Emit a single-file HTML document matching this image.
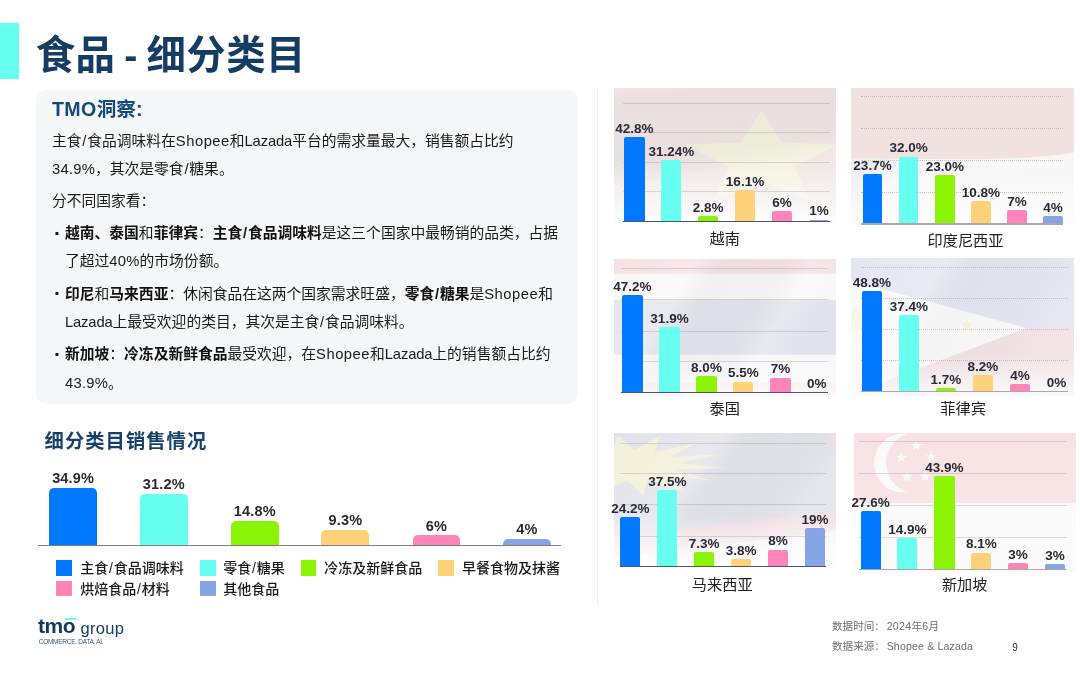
<!DOCTYPE html>
<html lang="zh-CN">
<head>
<meta charset="utf-8">
<title>食品 - 细分类目</title>
<style>
*{margin:0;padding:0;box-sizing:border-box}
html,body{width:1080px;height:675px;background:#fff;overflow:hidden}
body{position:relative;font-family:"Liberation Sans", "Noto Sans CJK SC", sans-serif;color:#111;-webkit-font-smoothing:antialiased}
.abs{position:absolute;white-space:nowrap}
.accent{left:0;top:23px;width:19px;height:56px;background:#66fff0}
.title{left:35.8px;top:28.6px;height:52px;line-height:52px;font-size:39.4px;font-weight:700;color:#153c63;letter-spacing:.4px;word-spacing:-2.5px}
.card{left:35.8px;top:89.5px;width:541.8px;height:314px;background:#f5f7f9;border-radius:10px}
.h2{font-weight:700;color:#17487a}
.ln{left:52px;font-size:14.78px;height:28px;line-height:28px;color:#1a1a1a}
.ln b{font-weight:700;color:#111}
.ind{left:65px}
.sh{letter-spacing:.5px}
.lz{letter-spacing:-.15px}
.dg{letter-spacing:.23px}
.sl{padding:0 .8px}
.bul{left:53px;width:8px;text-align:center;font-size:21px;font-weight:700;height:28px;line-height:28px;color:#1a1a1a}
.bar{position:absolute;border-radius:5px 5px 0 0}
.sbar{position:absolute;border-radius:2px 2px 0 0}
.lbl{position:absolute;white-space:nowrap;font-weight:700;color:#2a2a36;text-align:center;transform:translateX(-50%)}
.big{font-size:14.5px;height:18px;line-height:18px;letter-spacing:.15px}
.sm{font-size:13.5px;height:16px;line-height:16px}
.axis{position:absolute;height:1px;background:#808080}
.sw{position:absolute;width:15.8px;height:15.5px}
.lg{font-size:14px;font-weight:500;height:20px;line-height:20px;color:#1a1a1a}
.cty{position:absolute;white-space:nowrap;font-size:15.2px;height:20px;line-height:20px;color:#222;transform:translateX(-50%)}
.panel{position:absolute;overflow:hidden}
.panel svg{position:absolute;left:0;top:0;display:block}
.grid{position:absolute;height:0;border-top:1px solid rgba(110,110,120,.23)}
.gridd{position:absolute;height:0;border-top:1px dotted rgba(110,110,120,.36)}
.vline{left:597px;top:86.5px;width:1px;height:519.7px;background:#eef0f3}
.ft{left:832px;font-size:10.6px;height:16px;line-height:16px;color:#6e6e76}
.pg{left:1012.3px;top:640px;font-size:10px;height:16px;line-height:16px;color:#333}
.logo{color:#123a5e}
</style>
</head>
<body>
<div class="abs accent"></div>
<div class="abs title">食品 - 细分类目</div>
<div class="abs card"></div>
<div class="abs h2" style="left:52px;top:94.8px;height:28px;line-height:28px;font-size:19.6px"><span style="letter-spacing:.4px">TMO</span>洞察:</div>
<div class="abs ln" style="top:126.8px">主食<span class="sl">/</span>食品调味料在<span class="sh">Shopee</span>和<span class="lz">Lazada</span>平台的需求量最大，销售额占比约</div>
<div class="abs ln" style="top:154.6px"><span class="dg">34.9%</span>，其次是零食<span class="sl">/</span>糖果。</div>
<div class="abs ln" style="top:186.8px">分不同国家看：</div>
<div class="abs ln ind" style="top:219.1px"><b>越南、泰国</b>和<b>菲律宾</b>：<b>主食<span class="sl">/</span>食品调味料</b>是这三个国家中最畅销的品类，占据</div>
<div class="abs ln ind" style="top:247.4px">了超过<span class="dg">40%</span>的市场份额。</div>
<div class="abs ln ind" style="top:279.8px"><b>印尼</b>和<b>马来西亚</b>：休闲食品在这两个国家需求旺盛，<b>零食<span class="sl">/</span>糖果</b>是<span class="sh">Shopee</span>和</div>
<div class="abs ln ind" style="top:308.2px"><span class="lz">Lazada</span>上最受欢迎的类目，其次是主食<span class="sl">/</span>食品调味料。</div>
<div class="abs ln ind" style="top:340.2px"><b>新加坡</b>：<b>冷冻及新鲜食品</b>最受欢迎，在<span class="sh">Shopee</span>和<span class="lz">Lazada</span>上的销售额占比约</div>
<div class="abs ln ind" style="top:368.6px"><span class="dg">43.9%</span>。</div>
<div class="abs bul" style="left:53.4px;top:218.6px">·</div>
<div class="abs bul" style="left:53.4px;top:279.3px">·</div>
<div class="abs bul" style="left:53.4px;top:339.7px">·</div>
<div class="abs h2" style="left:44.6px;top:428.1px;height:28px;line-height:28px;font-size:19.3px;letter-spacing:1.05px;color:#17416b">细分类目销售情况</div>
<div class="bar" style="left:49.2px;top:487.7px;width:47.8px;height:57.3px;background:#0078ff"></div>
<div class="lbl big" style="left:73.1px;top:468.9px">34.9%</div>
<div class="bar" style="left:140.1px;top:493.6px;width:47.5px;height:51.4px;background:#66fff0"></div>
<div class="lbl big" style="left:163.8px;top:474.8px">31.2%</div>
<div class="bar" style="left:230.9px;top:521px;width:47.8px;height:24.0px;background:#8cf505"></div>
<div class="lbl big" style="left:254.8px;top:502.2px">14.8%</div>
<div class="bar" style="left:321.3px;top:530.2px;width:48.2px;height:14.8px;background:#ffd27a"></div>
<div class="lbl big" style="left:345.4px;top:511.4px">9.3%</div>
<div class="bar" style="left:412.5px;top:535.4px;width:47.9px;height:9.6px;background:#ff85b8"></div>
<div class="lbl big" style="left:436.4px;top:516.6px">6%</div>
<div class="bar" style="left:503.3px;top:539px;width:47.5px;height:6.0px;background:#85a5e6"></div>
<div class="lbl big" style="left:527.0px;top:520.2px">4%</div>
<div class="axis" style="left:38px;top:544.5px;width:523px"></div>
<div class="sw" style="left:56.2px;top:560px;background:#0078ff"></div>
<div class="abs lg" style="left:80.2px;top:558px">主食<span class="sl">/</span>食品调味料</div>
<div class="sw" style="left:200px;top:560px;background:#66fff0"></div>
<div class="abs lg" style="left:223.3px;top:558px">零食<span class="sl">/</span>糖果</div>
<div class="sw" style="left:300.6px;top:560px;background:#8cf505"></div>
<div class="abs lg" style="left:324.2px;top:558px">冷冻及新鲜食品</div>
<div class="sw" style="left:438.2px;top:560px;background:#ffd27a"></div>
<div class="abs lg" style="left:462.1px;top:558px">早餐食物及抹酱</div>
<div class="sw" style="left:56.2px;top:580.5px;background:#ff85b8"></div>
<div class="abs lg" style="left:80.2px;top:578.5px">烘焙食品<span class="sl">/</span>材料</div>
<div class="sw" style="left:200px;top:580.5px;background:#85a5e6"></div>
<div class="abs lg" style="left:223.3px;top:578.5px">其他食品</div>
<div class="abs" style="left:64.9px;top:617.8px;width:10.7px;height:2.6px;background:#66fff0"></div>
<div class="abs logo" style="left:38px;top:613.8px;height:24px;line-height:24px;font-size:21px;font-weight:700;letter-spacing:-0.45px">tmo</div>
<div class="abs logo" style="left:80.5px;top:616px;height:24px;line-height:24px;font-size:16.5px;font-weight:400;letter-spacing:.3px">group</div>
<div class="abs logo" style="left:38.8px;top:636.8px;height:10px;line-height:10px;font-size:6.5px;letter-spacing:-.28px;color:#3a5a7a">COMMERCE. DATA. AI.</div>
<div class="abs vline"></div>
<div class="panel" style="left:613.5px;top:87.8px;width:222.5px;height:138.7px"><svg width="222.5" height="138.7" viewBox="0 0 222.5 138.7"><defs><linearGradient id="fvn" x1="0" y1="0" x2="0" y2="1"><stop offset="0" stop-color="#fff" stop-opacity="0"/><stop offset="0.55" stop-color="#fff" stop-opacity="0.05"/><stop offset="0.8" stop-color="#fff" stop-opacity="0.55"/><stop offset="1" stop-color="#fff" stop-opacity="1"/></linearGradient></defs><defs><linearGradient id="wvn" gradientTransform="rotate(75)"><stop offset="0" stop-color="#fff" stop-opacity="0.12"/><stop offset="0.2" stop-color="#888" stop-opacity="0.04"/><stop offset="0.45" stop-color="#888" stop-opacity="0.05"/><stop offset="0.7" stop-color="#fff" stop-opacity="0.15"/><stop offset="1" stop-color="#fff" stop-opacity="0.1"/></linearGradient></defs><rect width="222.5" height="138.7" fill="#eee3e2"/><g transform="translate(147.5 72) scale(1.62 1)"><polygon points="0.0,-50.0 12.6,-17.4 47.6,-15.5 20.4,6.6 29.4,40.5 0.0,21.5 -29.4,40.5 -20.4,6.6 -47.6,-15.5 -12.6,-17.4" fill="#f2f0dc"/></g><rect width="222.5" height="138.7" fill="url(#wvn)"/><rect width="222.5" height="138.7" fill="url(#fvn)"/></svg></div>
<div class="grid" style="left:622.8px;top:102.8px;width:207.2px"></div>
<div class="grid" style="left:622.8px;top:132.1px;width:207.2px"></div>
<div class="grid" style="left:622.8px;top:162.0px;width:207.2px"></div>
<div class="grid" style="left:622.8px;top:191.0px;width:207.2px"></div>
<div class="sbar" style="left:624.1px;top:137px;width:20.5px;height:84.6px;background:#0078ff"></div>
<div class="lbl sm" style="left:634.4px;top:120.7px">42.8%</div>
<div class="sbar" style="left:661.2px;top:160.4px;width:20.2px;height:61.2px;background:#66fff0"></div>
<div class="lbl sm" style="left:671.3px;top:144.1px">31.24%</div>
<div class="sbar" style="left:698px;top:216px;width:20.3px;height:5.6px;background:#8cf505"></div>
<div class="lbl sm" style="left:708.1px;top:199.7px">2.8%</div>
<div class="sbar" style="left:735px;top:190.2px;width:20.0px;height:31.4px;background:#ffd27a"></div>
<div class="lbl sm" style="left:745.0px;top:173.9px">16.1%</div>
<div class="sbar" style="left:772px;top:211px;width:20.0px;height:10.6px;background:#ff85b8"></div>
<div class="lbl sm" style="left:782.0px;top:194.7px">6%</div>
<div class="sbar" style="left:809px;top:219.5px;width:20.0px;height:2.1px;background:#85a5e6"></div>
<div class="lbl sm" style="left:819.0px;top:203.2px">1%</div>
<div class="axis" style="left:622.8px;top:221.0px;height:1.1px;width:207.2px;background:#4a5670"></div>
<div class="cty" style="left:724.8px;top:229.4px">越南</div>
<div class="panel" style="left:851.1px;top:87.8px;width:222.9px;height:138.6px"><svg width="222.9" height="138.6" viewBox="0 0 222.9 138.6"><defs><linearGradient id="fid" x1="0" y1="0" x2="0" y2="1"><stop offset="0" stop-color="#fff" stop-opacity="0"/><stop offset="0.6" stop-color="#fff" stop-opacity="0.0"/><stop offset="0.85" stop-color="#fff" stop-opacity="0.5"/><stop offset="1" stop-color="#fff" stop-opacity="1"/></linearGradient></defs><defs><linearGradient id="wid" gradientTransform="rotate(35)"><stop offset="0" stop-color="#777" stop-opacity="0.1"/><stop offset="0.3" stop-color="#999" stop-opacity="0.06"/><stop offset="0.55" stop-color="#fff" stop-opacity="0.2"/><stop offset="1" stop-color="#fff" stop-opacity="0.1"/></linearGradient></defs><rect width="222.9" height="138.6" fill="#f6f6f6"/><rect width="222.9" height="138.6" fill="url(#wid)"/><path d="M0 0H222.9V64.5Q189.465 70.5 133.74 71T0 70Z" fill="#f1e2e1"/><rect width="222.9" height="138.6" fill="url(#fid)"/></svg></div>
<div class="gridd" style="left:860.7px;top:95.8px;width:202.7px"></div>
<div class="gridd" style="left:860.7px;top:127.7px;width:202.7px"></div>
<div class="gridd" style="left:860.7px;top:159.9px;width:202.7px"></div>
<div class="gridd" style="left:860.7px;top:192.0px;width:202.7px"></div>
<div class="sbar" style="left:862.8px;top:173.8px;width:19.4px;height:50.1px;background:#0078ff"></div>
<div class="lbl sm" style="left:872.5px;top:157.5px">23.7%</div>
<div class="sbar" style="left:898.8px;top:156.5px;width:19.7px;height:67.4px;background:#66fff0"></div>
<div class="lbl sm" style="left:908.6px;top:140.2px">32.0%</div>
<div class="sbar" style="left:935.1px;top:175.4px;width:19.5px;height:48.5px;background:#8cf505"></div>
<div class="lbl sm" style="left:944.9px;top:159.1px">23.0%</div>
<div class="sbar" style="left:970.9px;top:201px;width:20.0px;height:22.9px;background:#ffd27a"></div>
<div class="lbl sm" style="left:980.9px;top:184.7px">10.8%</div>
<div class="sbar" style="left:1007.2px;top:210.1px;width:19.7px;height:13.8px;background:#ff85b8"></div>
<div class="lbl sm" style="left:1017.1px;top:193.8px">7%</div>
<div class="sbar" style="left:1043px;top:215.8px;width:19.9px;height:8.1px;background:#85a5e6"></div>
<div class="lbl sm" style="left:1053.0px;top:199.5px">4%</div>
<div class="axis" style="left:860.7px;top:223.1px;height:1.6px;width:202.7px;background:#a9a9ad"></div>
<div class="cty" style="left:965.5px;top:231.3px">印度尼西亚</div>
<div class="panel" style="left:613.5px;top:258.6px;width:222.5px;height:138.7px"><svg width="222.5" height="138.7" viewBox="0 0 222.5 138.7"><defs><linearGradient id="fth" x1="0" y1="0" x2="0" y2="1"><stop offset="0" stop-color="#fff" stop-opacity="0"/><stop offset="0.75" stop-color="#fff" stop-opacity="0.0"/><stop offset="1" stop-color="#fff" stop-opacity="0.75"/></linearGradient></defs><defs><linearGradient id="wth" gradientTransform="rotate(20)"><stop offset="0" stop-color="#fff" stop-opacity="0.0"/><stop offset="0.35" stop-color="#fff" stop-opacity="0.25"/><stop offset="0.6" stop-color="#999" stop-opacity="0.05"/><stop offset="0.85" stop-color="#fff" stop-opacity="0.2"/><stop offset="1" stop-color="#fff" stop-opacity="0"/></linearGradient></defs><rect width="222.5" height="138.7" fill="#f8f8f8"/><rect width="222.5" height="14.7" fill="#f6e1e2"/><rect y="40.7" width="222.5" height="55" fill="#e2e3ed"/><rect y="123.7" width="222.5" height="15.2" fill="#f9e9ea"/><rect width="222.5" height="138.7" fill="url(#wth)"/><rect width="222.5" height="138.7" fill="url(#fth)"/></svg></div>
<div class="grid" style="left:621.3px;top:268.2px;width:206.9px"></div>
<div class="grid" style="left:621.3px;top:299.3px;width:206.9px"></div>
<div class="grid" style="left:621.3px;top:330.7px;width:206.9px"></div>
<div class="grid" style="left:621.3px;top:361.0px;width:206.9px"></div>
<div class="sbar" style="left:622px;top:295.4px;width:20.8px;height:97.0px;background:#0078ff"></div>
<div class="lbl sm" style="left:632.4px;top:279.1px">47.2%</div>
<div class="sbar" style="left:659.4px;top:327px;width:20.2px;height:65.4px;background:#66fff0"></div>
<div class="lbl sm" style="left:669.5px;top:310.7px">31.9%</div>
<div class="sbar" style="left:696.2px;top:376.3px;width:20.5px;height:16.1px;background:#8cf505"></div>
<div class="lbl sm" style="left:706.5px;top:360.0px">8.0%</div>
<div class="sbar" style="left:733.3px;top:381.5px;width:20.2px;height:10.9px;background:#ffd27a"></div>
<div class="lbl sm" style="left:743.4px;top:365.2px">5.5%</div>
<div class="sbar" style="left:770.1px;top:377.6px;width:20.5px;height:14.8px;background:#ff85b8"></div>
<div class="lbl sm" style="left:780.4px;top:361.3px">7%</div>
<div class="lbl sm" style="left:816.8px;top:376.1px">0%</div>
<div class="axis" style="left:621.3px;top:391.8px;height:1.1px;width:206.9px;background:#4a5670"></div>
<div class="cty" style="left:724.8px;top:399px">泰国</div>
<div class="panel" style="left:851.1px;top:257.8px;width:222.9px;height:138.7px"><svg width="222.9" height="138.7" viewBox="0 0 222.9 138.7"><defs><linearGradient id="fph" x1="0" y1="0" x2="0" y2="1"><stop offset="0" stop-color="#fff" stop-opacity="0"/><stop offset="0.7" stop-color="#fff" stop-opacity="0.0"/><stop offset="1" stop-color="#fff" stop-opacity="0.8"/></linearGradient></defs><defs><linearGradient id="wph" gradientTransform="rotate(20)"><stop offset="0" stop-color="#fff" stop-opacity="0.0"/><stop offset="0.4" stop-color="#fff" stop-opacity="0.2"/><stop offset="0.65" stop-color="#999" stop-opacity="0.04"/><stop offset="1" stop-color="#fff" stop-opacity="0.1"/></linearGradient></defs><rect width="222.9" height="138.7" fill="#e3e6f0"/><rect y="70" width="222.9" height="68.69999999999999" fill="#f1e1e4"/><polygon points="0,22.5 175.5,70 0,136" fill="#fafafa"/><polygon points="116.0,59.5 117.7,64.7 123.1,64.7 118.7,67.9 120.4,73.1 116.0,69.9 111.6,73.1 113.3,67.9 108.9,64.7 114.3,64.7" fill="#f6f3de"/><polygon points="21.5,63.0 11.9,66.1 16.5,75.0 7.6,70.4 4.5,80.0 1.4,70.4 -7.5,75.0 -2.9,66.1 -12.5,63.0 -2.9,59.9 -7.5,51.0 1.4,55.6 4.5,46.0 7.6,55.6 16.5,51.0 11.9,59.9" fill="#f8f5e4"/><circle cx="4.5" cy="63" r="9" fill="#f8f5e4"/><rect width="222.9" height="138.7" fill="url(#wph)"/><rect width="222.9" height="138.7" fill="url(#fph)"/></svg></div>
<div class="gridd" style="left:860.7px;top:267.1px;width:207.3px"></div>
<div class="gridd" style="left:860.7px;top:298.0px;width:207.3px"></div>
<div class="gridd" style="left:860.7px;top:328.8px;width:207.3px"></div>
<div class="gridd" style="left:860.7px;top:359.7px;width:207.3px"></div>
<div class="sbar" style="left:861.8px;top:291px;width:20.2px;height:100.3px;background:#0078ff"></div>
<div class="lbl sm" style="left:871.9px;top:274.7px">48.8%</div>
<div class="sbar" style="left:898.8px;top:314.8px;width:20.2px;height:76.5px;background:#66fff0"></div>
<div class="lbl sm" style="left:908.9px;top:298.5px">37.4%</div>
<div class="sbar" style="left:935.9px;top:388.2px;width:20.0px;height:3.1px;background:#8cf505"></div>
<div class="lbl sm" style="left:945.9px;top:371.9px">1.7%</div>
<div class="sbar" style="left:972.7px;top:374.9px;width:20.2px;height:16.4px;background:#ffd27a"></div>
<div class="lbl sm" style="left:982.8px;top:358.6px">8.2%</div>
<div class="sbar" style="left:1009.8px;top:384px;width:20.2px;height:7.3px;background:#ff85b8"></div>
<div class="lbl sm" style="left:1019.9px;top:367.7px">4%</div>
<div class="lbl sm" style="left:1056.5px;top:375.0px">0%</div>
<div class="axis" style="left:860.7px;top:390.5px;height:1.6px;width:207.3px;background:#a9a9ad"></div>
<div class="cty" style="left:963.1px;top:398.6px">菲律宾</div>
<div class="panel" style="left:613.5px;top:432.8px;width:222.5px;height:138.7px"><svg width="222.5" height="138.7" viewBox="0 0 222.5 138.7"><defs><linearGradient id="fmy" x1="0" y1="0" x2="0" y2="1"><stop offset="0" stop-color="#fff" stop-opacity="0"/><stop offset="0.6" stop-color="#fff" stop-opacity="0.0"/><stop offset="0.85" stop-color="#fff" stop-opacity="0.7"/><stop offset="1" stop-color="#fff" stop-opacity="1"/></linearGradient></defs><defs><linearGradient id="wmy" gradientTransform="rotate(25)"><stop offset="0" stop-color="#fff" stop-opacity="0.0"/><stop offset="0.45" stop-color="#fff" stop-opacity="0.22"/><stop offset="0.7" stop-color="#999" stop-opacity="0.03"/><stop offset="1" stop-color="#fff" stop-opacity="0.15"/></linearGradient></defs><rect width="222.5" height="138.7" fill="#e2e2ea"/><path d="M0 104L222.5 78V98L0 124Z" fill="#f1dfe3"/><path d="M0 124L222.5 98V138.7H0Z" fill="#f6f3f5"/><path d="M212.5 2H222.5V16Z" fill="#f1dfe3"/><g transform="translate(16.3 32.2) scale(3.15 1)"><polygon points="30.9,2.7 14.3,4.6 26.7,15.8 10.9,10.3 17.1,25.8 5.3,14.0 4.2,30.7 -1.3,14.9 -9.5,29.5 -7.7,12.9 -21.4,22.5 -12.5,8.3 -29.0,11.0 -14.9,2.1 -30.9,-2.7 -14.3,-4.6 -26.7,-15.8 -10.9,-10.3 -17.1,-25.8 -5.3,-14.0 -4.2,-30.7 1.3,-14.9 9.5,-29.5 7.7,-12.9 21.4,-22.5 12.5,-8.3 29.0,-11.0 14.9,-2.1" fill="#f3f0d9"/></g><rect width="222.5" height="138.7" fill="url(#wmy)"/><rect width="222.5" height="138.7" fill="url(#fmy)"/></svg></div>
<div class="grid" style="left:619.5px;top:442.7px;width:206.6px"></div>
<div class="grid" style="left:619.5px;top:473.0px;width:206.6px"></div>
<div class="grid" style="left:619.5px;top:503.6px;width:206.6px"></div>
<div class="grid" style="left:619.5px;top:535.5px;width:206.6px"></div>
<div class="sbar" style="left:620.2px;top:517.1px;width:20.3px;height:49.5px;background:#0078ff"></div>
<div class="lbl sm" style="left:630.4px;top:500.8px">24.2%</div>
<div class="sbar" style="left:657.1px;top:489.8px;width:20.4px;height:76.8px;background:#66fff0"></div>
<div class="lbl sm" style="left:667.3px;top:473.5px">37.5%</div>
<div class="sbar" style="left:693.9px;top:552.1px;width:20.5px;height:14.5px;background:#8cf505"></div>
<div class="lbl sm" style="left:704.1px;top:535.8px">7.3%</div>
<div class="sbar" style="left:731px;top:559.1px;width:20.2px;height:7.5px;background:#ffd27a"></div>
<div class="lbl sm" style="left:741.1px;top:542.8px">3.8%</div>
<div class="sbar" style="left:768px;top:549.5px;width:20.3px;height:17.1px;background:#ff85b8"></div>
<div class="lbl sm" style="left:778.1px;top:533.2px">8%</div>
<div class="sbar" style="left:804.9px;top:528.2px;width:20.2px;height:38.4px;background:#85a5e6"></div>
<div class="lbl sm" style="left:815.0px;top:511.9px">19%</div>
<div class="axis" style="left:619.5px;top:566.1px;height:1.1px;width:206.6px;background:#4a5670"></div>
<div class="cty" style="left:722.2px;top:575px">马来西亚</div>
<div class="panel" style="left:853.5px;top:432.8px;width:222.4px;height:139.9px"><svg width="222.4" height="139.9" viewBox="0 0 222.4 139.9"><defs><linearGradient id="fsg" x1="0" y1="0" x2="0" y2="1"><stop offset="0" stop-color="#fff" stop-opacity="0"/><stop offset="1" stop-color="#fff" stop-opacity="0.2"/></linearGradient></defs><rect width="222.4" height="139.9" fill="#fafafa"/><rect width="222.4" height="70" fill="#f8e2e4"/><circle cx="49.5" cy="30.1" r="29.5" fill="#fafafa"/><circle cx="63" cy="30" r="30.8" fill="#f8e2e4"/><polygon points="62.3,6.9 63.6,11.0 68.0,11.0 64.5,13.6 65.8,17.8 62.3,15.2 58.8,17.8 60.1,13.6 56.6,11.0 61.0,11.0" fill="#fafafa"/><polygon points="47.3,18.7 48.6,22.8 53.0,22.8 49.5,25.4 50.8,29.6 47.3,27.0 43.8,29.6 45.1,25.4 41.6,22.8 46.0,22.8" fill="#fafafa"/><polygon points="77.3,18.2 78.6,22.3 83.0,22.3 79.5,24.9 80.8,29.1 77.3,26.5 73.8,29.1 75.1,24.9 71.6,22.3 76.0,22.3" fill="#fafafa"/><polygon points="53.1,37.6 54.4,41.7 58.8,41.7 55.3,44.3 56.6,48.5 53.1,45.9 49.6,48.5 50.9,44.3 47.4,41.7 51.8,41.7" fill="#fafafa"/><polygon points="71.3,37.6 72.6,41.7 77.0,41.7 73.5,44.3 74.8,48.5 71.3,45.9 67.8,48.5 69.1,44.3 65.6,41.7 70.0,41.7" fill="#fafafa"/><rect width="222.4" height="139.9" fill="url(#fsg)"/></svg></div>
<div class="grid" style="left:858.7px;top:440.8px;width:208.1px"></div>
<div class="grid" style="left:858.7px;top:473.0px;width:208.1px"></div>
<div class="grid" style="left:858.7px;top:504.9px;width:208.1px"></div>
<div class="grid" style="left:858.7px;top:537.0px;width:208.1px"></div>
<div class="sbar" style="left:860.5px;top:511px;width:20.2px;height:58.6px;background:#0078ff"></div>
<div class="lbl sm" style="left:870.6px;top:494.7px">27.6%</div>
<div class="sbar" style="left:897.3px;top:538px;width:20.2px;height:31.6px;background:#66fff0"></div>
<div class="lbl sm" style="left:907.4px;top:521.7px">14.9%</div>
<div class="sbar" style="left:934.1px;top:476.3px;width:20.5px;height:93.3px;background:#8cf505"></div>
<div class="lbl sm" style="left:944.4px;top:460.0px">43.9%</div>
<div class="sbar" style="left:971.2px;top:552.5px;width:20.2px;height:17.1px;background:#ffd27a"></div>
<div class="lbl sm" style="left:981.3px;top:536.2px">8.1%</div>
<div class="sbar" style="left:1008px;top:563.4px;width:20.2px;height:6.2px;background:#ff85b8"></div>
<div class="lbl sm" style="left:1018.1px;top:547.1px">3%</div>
<div class="sbar" style="left:1045px;top:564.2px;width:20.0px;height:5.4px;background:#85a5e6"></div>
<div class="lbl sm" style="left:1055.0px;top:547.9px">3%</div>
<div class="axis" style="left:858.7px;top:568.8px;height:1.6px;width:208.1px;background:#a9a9ad"></div>
<div class="cty" style="left:964.7px;top:575px">新加坡</div>
<div class="abs ft" style="top:617.5px">数据时间：<span style="margin-left:1.7px;letter-spacing:.3px">2024年6月</span></div>
<div class="abs ft" style="top:638.1px">数据来源：<span style="margin-left:1.7px;letter-spacing:.15px">Shopee &amp; Lazada</span></div>
<div class="abs pg">9</div>
</body>
</html>
